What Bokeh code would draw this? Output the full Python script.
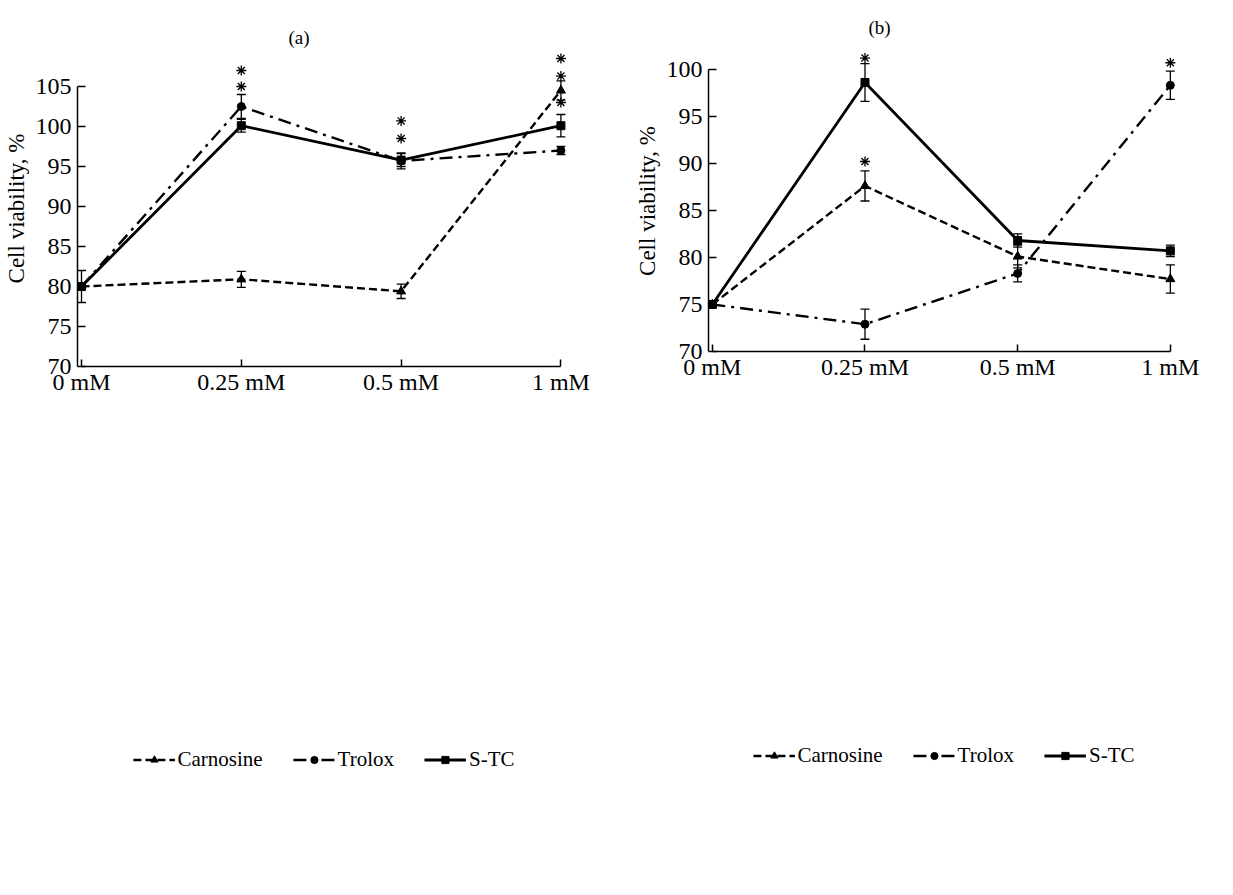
from bokeh.plotting import figure
from bokeh.layouts import column, row
from bokeh.models import Legend, LegendItem, FixedTicker, Range1d
from bokeh.embed import file_html
from bokeh.resources import INLINE

FONT = "Liberation Serif"

conc_labels = ["0 mM", "0.25 mM", "0.5 mM", "1 mM"]
x_idx = [0, 1, 2, 3]
series_names = ["Carnosine", "Trolox", "S-TC"]

# Panel (a)
a_carn = [80.0, 80.9, 79.4, 104.5]
a_carn_err = [0.0, 1.0, 0.9, 1.2]
a_trol = [80.0, 102.5, 95.7, 97.0]
a_trol_err = [0.0, 1.5, 1.0, 0.5]
a_stc = [80.0, 100.1, 95.8, 100.1]
a_stc_err = [2.0, 0.8, 0.8, 1.4]
a_star_x = [1, 1, 2, 2, 3, 3, 3]
a_star_y = [107.0, 105.0, 100.7, 98.5, 108.5, 106.3, 103.0]

# Panel (b)
b_carn = [75.0, 87.6, 80.1, 77.7]
b_carn_err = [0.0, 1.6, 1.2, 1.5]
b_trol = [75.0, 72.9, 78.3, 98.3]
b_trol_err = [0.0, 1.6, 0.9, 1.5]
b_stc = [75.0, 98.6, 81.8, 80.7]
b_stc_err = [0.0, 2.0, 0.7, 0.6]
b_star_x = [1, 1, 3]
b_star_y = [101.2, 90.2, 100.7]

# Panel (c)
c_carn = [71.7, 72.8, 73.2, 73.9]
c_carn_err = [0.0, 0.5, 0.6, 1.0]
c_trol = [71.8, 86.7, 87.2, 85.9]
c_trol_err = [0.0, 1.3, 0.6, 0.7]
c_stc = [71.8, 102.9, 96.9, 89.9]
c_stc_err = [0.0, 1.0, 2.1, 1.5]
c_star_x = [1, 1, 2, 2, 3, 3]
c_star_y = [104.9, 89.3, 99.8, 90.0, 92.5, 87.8]

# Panel (d)
d_carn = [79.8, 92.9, 87.7, 107.2]
d_carn_err = [0.0, 1.7, 1.2, 1.1]
d_trol = [79.8, 90.1, 108.3, 94.7]
d_trol_err = [0.0, 1.6, 1.5, 1.2]
d_stc = [79.8, 97.8, 90.1, 79.8]
d_stc_err = [2.0, 1.4, 1.5, 1.2]
d_star_x = [1, 1, 1, 2, 2, 3, 3]
d_star_y = [100.5, 96.2, 94.4, 110.9, 93.2, 110.1, 97.5]

STYLES = [
    dict(dash="8 4", marker="triangle", size=9, width=2.4),
    dict(dash="13 6 3 6", marker="circle", size=8, width=2.4),
    dict(dash="solid", marker="square", size=8, width=2.8),
]


def panel(letter, data, star_x, star_y, ytop, yend, fw, fh, bl, br, bt, bb,
          title_off, title_standoff):
    p = figure(frame_width=fw, frame_height=fh, output_backend="svg",
               toolbar_location=None,
               x_range=Range1d(-0.025, 3.06), y_range=Range1d(70, yend),
               min_border_left=bl, min_border_right=br,
               min_border_top=bt, min_border_bottom=bb)
    p.outline_line_color = None
    p.xgrid.grid_line_color = None
    p.ygrid.grid_line_color = None

    p.title.text = letter
    p.title.align = "left"
    p.title.offset = title_off
    p.title.standoff = title_standoff
    p.title.text_font = FONT
    p.title.text_font_size = "19px"
    p.title.text_font_style = "normal"
    p.title.text_color = "black"

    xa = p.xaxis[0]
    xa.ticker = FixedTicker(ticks=x_idx)
    xa.major_label_overrides = {i: lab for i, lab in zip(x_idx, conc_labels)}
    xa.bounds = (0, 3)
    xa.major_tick_in = 7
    xa.major_tick_out = 0
    xa.minor_tick_line_color = None
    xa.axis_line_width = 1.5
    xa.major_tick_line_width = 1.5
    xa.major_label_text_font = FONT
    xa.major_label_text_font_size = "24px"
    xa.major_label_text_color = "black"
    xa.major_label_standoff = 2

    ya = p.yaxis[0]
    ya.ticker = FixedTicker(ticks=list(range(70, ytop + 1, 5)))
    ya.bounds = (70, ytop)
    ya.major_tick_in = 8
    ya.major_tick_out = 0
    ya.minor_tick_line_color = None
    ya.axis_line_width = 1.5
    ya.major_tick_line_width = 1.5
    ya.major_label_text_font = FONT
    ya.major_label_text_font_size = "24px"
    ya.major_label_text_color = "black"
    ya.major_label_standoff = 6
    ya.axis_label = "Cell viability, %"
    ya.axis_label_text_font = FONT
    ya.axis_label_text_font_size = "23px"
    ya.axis_label_text_font_style = "normal"
    ya.axis_label_text_color = "black"
    ya.axis_label_standoff = 4

    items = []
    for name, (vals, errs), st in zip(series_names, data, STYLES):
        ex = [x for x, e in zip(x_idx, errs) if e > 0]
        ey = [v for v, e in zip(vals, errs) if e > 0]
        ee = [e for e in errs if e > 0]
        lo = [v - e for v, e in zip(ey, ee)]
        hi = [v + e for v, e in zip(ey, ee)]
        p.segment(x0=ex, y0=lo, x1=ex, y1=hi, line_color="black", line_width=1.3)
        p.scatter(ex + ex, lo + hi, marker="dash", size=9,
                  line_color="black", line_width=1.3)
        lr = p.line(x_idx, vals, line_color="black", line_width=st["width"],
                    line_dash=st["dash"])
        sr = p.scatter(x_idx, vals, marker=st["marker"], size=st["size"],
                       fill_color="black", line_color="black")
        items.append(LegendItem(label=name, renderers=[lr, sr]))

    p.scatter(star_x, star_y, marker="asterisk", size=10,
              line_color="black", line_width=1.3)

    leg = Legend(items=items, orientation="horizontal", location="center",
                 border_line_color=None, background_fill_alpha=0,
                 label_text_font=FONT, label_text_font_size="21px",
                 label_text_color="black", label_height=18,
                 glyph_width=42, glyph_height=18, label_standoff=3, spacing=30,
                 padding=0, margin=3)
    p.add_layout(leg, "below")
    return p


pa = panel("(a)", [(a_carn, a_carn_err), (a_trol, a_trol_err), (a_stc, a_stc_err)],
           a_star_x, a_star_y, 105, 109.5, 493, 316, 77, 38, 35, 80, 211, 5)
pb = panel("(b)", [(b_carn, b_carn_err), (b_trol, b_trol_err), (b_stc, b_stc_err)],
           b_star_x, b_star_y, 100, 102.0, 471, 301, 100, 37, 50, 80, 160, 26)
pc = panel("(c)", [(c_carn, c_carn_err), (c_trol, c_trol_err), (c_stc, c_stc_err)],
           c_star_x, c_star_y, 105, 106.3, 493, 292, 77, 38, 75, 64, 211, 22)
pd = panel("(d)", [(d_carn, d_carn_err), (d_trol, d_trol_err), (d_stc, d_stc_err)],
           d_star_x, d_star_y, 110, 112.0, 471, 301, 100, 37, 66, 64, 160, 14)

layout = column(row(pa, pb), row(pc, pd))
open("out.html", "w").write(file_html(layout, INLINE))
